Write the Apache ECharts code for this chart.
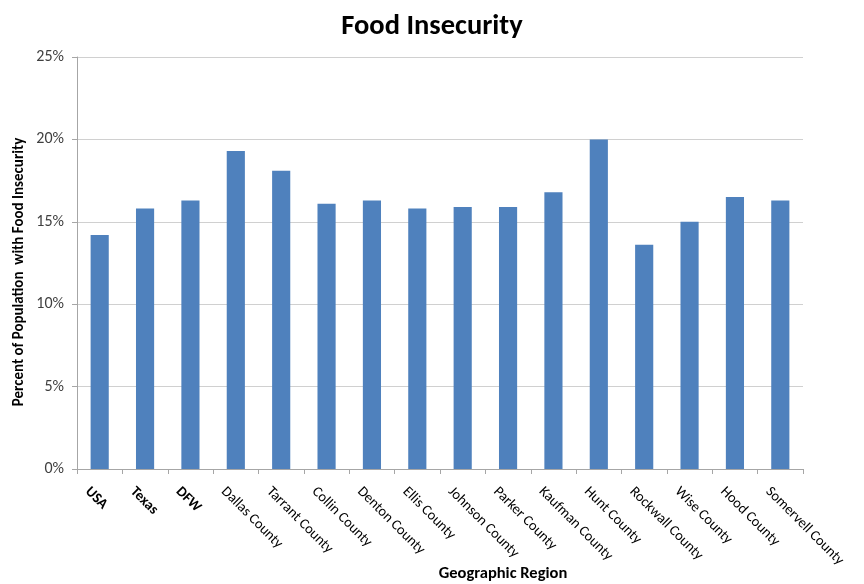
<!DOCTYPE html>
<html><head><meta charset="utf-8">
<script src="https://cdn.jsdelivr.net/npm/echarts@6/dist/echarts.min.js"></script>
<style>html,body{margin:0;padding:0;background:#fff}#c{width:864px;height:584px}</style>
</head><body><div id="c"></div>
<script>
const categories = ["USA","Texas","DFW","Dallas County","Tarrant County","Collin County","Denton County","Ellis County","Johnson County","Parker County","Kaufman County","Hunt County","Rockwall County","Wise County","Hood County","Somervell County"];
const values = [14.2,15.8,16.3,19.3,18.1,16.1,16.3,15.8,15.9,15.9,16.8,20.0,13.6,15.0,16.5,16.3];
const boldCategories = ["USA","Texas","DFW"];
const yTicks = [0,5,10,15,20,25];

const font = "Calibri, Carlito, 'Open Sans', 'DejaVu Sans', sans-serif";
const chart = echarts.init(document.getElementById('c'));
chart.setOption({
  animation:false,
  title:{text:"Food Insecurity",left:'center',top:7,textStyle:{fontFamily:font,fontSize:28.5,fontWeight:'bold',color:'#000'}},
  grid:{left:77,right:61,top:57,bottom:115,containLabel:false,outerBoundsMode:'none'},
  xAxis:{type:'category',data:categories,
    name:"Geographic Region",nameLocation:'middle',nameGap:96,nameMoveOverlap:false,
    nameTextStyle:{fontFamily:font,fontSize:16.5,fontWeight:'bold',color:'#000',padding:[0,0,0,126]},
    axisLine:{lineStyle:{color:'#a6a6a6'}},
    axisTick:{show:true,alignWithLabel:false,length:5,lineStyle:{color:'#a6a6a6'}},
    axisLabel:{rotate:-45,interval:0,margin:8,fontFamily:font,fontSize:14.5,color:'#000',
      verticalAlign:'top',padding:[10,0,0,0],hideOverlap:false,
      formatter:function(v){return boldCategories.indexOf(v)>=0?'{b|'+v+'}':v;},
      rich:{b:{fontWeight:'bold',fontFamily:font,fontSize:14.5,color:'#000'}}}
  },
  yAxis:{type:'value',min:0,max:25,interval:5,
    name:"Percent of Population  with Food Insecurity",nameLocation:'middle',nameGap:50,nameMoveOverlap:false,
    nameTextStyle:{fontFamily:font,fontSize:15,fontWeight:'bold',color:'#000',padding:[0,18,0,0]},
    axisLine:{show:true,lineStyle:{color:'#a6a6a6'}},
    axisTick:{show:true,length:5,lineStyle:{color:'#a6a6a6'}},
    splitLine:{lineStyle:{color:'#d0d0d0'}},
    axisLabel:{fontFamily:font,fontSize:16,color:'#404040',margin:13,formatter:function(v){return yTicks.indexOf(v)>=0?v+'%':'';}}
  },
  series:[{type:'bar',data:values,barWidth:'40%',itemStyle:{color:'#4f81bd'}}]
});
</script></body></html>
